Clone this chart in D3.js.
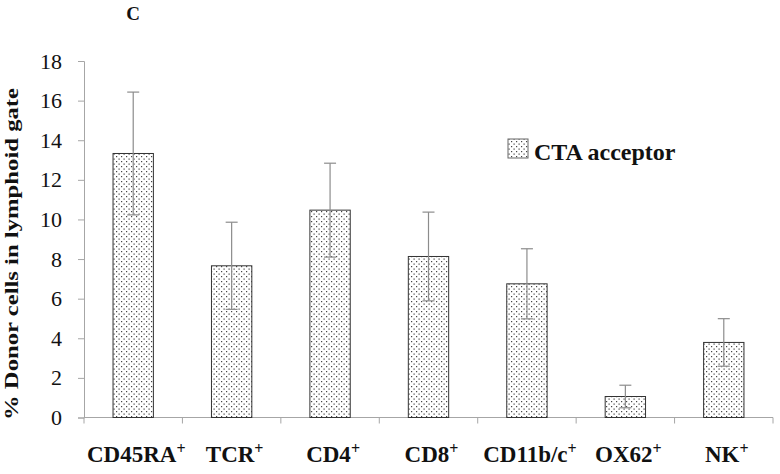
<!DOCTYPE html>
<html>
<head>
<meta charset="utf-8">
<script src="https://cdn.jsdelivr.net/npm/d3@7"></script>
<style>
  body { margin: 0; padding: 0; background: #fff; }
  #fig { display: block; }
  #fig text { font-family: "Liberation Serif" !important; }
</style>
</head>
<body>
<svg id="fig" width="780" height="474"></svg>
<script>
const categories = ["CD45RA", "TCR", "CD4", "CD8", "CD11b/c", "OX62", "NK"];
const values = [13.33, 7.66, 10.47, 8.13, 6.75, 1.06, 3.79];
const errors = [3.1, 2.2, 2.37, 2.24, 1.77, 0.57, 1.2];
const yTicks = [0, 2, 4, 6, 8, 10, 12, 14, 16, 18];
const seriesName = "CTA acceptor";
const panelLabel = "C";
const yTitle = "% Donor cells in lymphoid gate";

(function () {
const svg = d3.select("#fig");
const FF = '"Liberation Serif"';

const mLeft = 84, mRight = 773, mTop = 61, mBottom = 417.5;

const x = d3.scaleBand().domain(categories).range([mLeft, mRight]).padding(0);
const y = d3.scaleLinear().domain([0, 18]).range([mBottom, mTop]);

// pattern
const defs = svg.append("defs");
const pat = defs.append("pattern")
  .attr("id", "dots").attr("patternUnits", "userSpaceOnUse")
  .attr("width", 5).attr("height", 5);
pat.append("rect").attr("width", 5).attr("height", 5).attr("fill", "#fff");
pat.append("rect").attr("x", 1).attr("y", 1).attr("width", 1.2).attr("height", 1.2).attr("fill", "#444");
pat.append("rect").attr("x", 3.5).attr("y", 3.5).attr("width", 1.2).attr("height", 1.2).attr("fill", "#444");

// y axis
const yAxis = d3.axisLeft(y).tickValues(yTicks).tickSize(6).tickPadding(16).tickFormat(d3.format("d"));
const gy = svg.append("g").attr("transform", `translate(${mLeft},0)`).call(yAxis);
gy.attr("font-family", FF).attr("font-size", 22);
gy.select(".domain").attr("stroke", "#a6a6a6");
gy.selectAll(".tick line").attr("stroke", "#a6a6a6");
gy.selectAll(".tick text").style("font-family", FF, "important").attr("font-size", 22).attr("fill", "#111");

// x axis
const gx = svg.append("g").attr("transform", `translate(0,${mBottom})`);
gx.append("line").attr("x1", mLeft).attr("x2", mRight).attr("y1", 0).attr("y2", 0).attr("stroke", "#a6a6a6");
const bounds = categories.map(c => x(c)).concat([x(categories[categories.length - 1]) + x.bandwidth()]);
gx.selectAll("line.tk").data(bounds).join("line").attr("class", "tk")
  .attr("x1", d => d).attr("x2", d => d).attr("y1", 0).attr("y2", 6).attr("stroke", "#a6a6a6");

// x labels
const labels = svg.append("g").selectAll("text").data(categories).join("text")
  .attr("x", d => x(d) + x.bandwidth() / 2 + 3)
  .attr("y", 462)
  .attr("text-anchor", "middle")
  .style("font-family", FF, "important").attr("font-weight", "bold").attr("font-size", 23).attr("fill", "#111");
labels.append("tspan").text(d => d);
labels.append("tspan").attr("font-size", 16).attr("dy", -8).text("+");

// bars
const bw = x.bandwidth() * 0.41;
svg.append("g").selectAll("rect").data(categories).join("rect")
  .attr("x", d => x(d) + x.bandwidth() / 2 - bw / 2)
  .attr("y", (d, i) => y(values[i]))
  .attr("width", bw)
  .attr("height", (d, i) => mBottom - y(values[i]))
  .attr("fill", "url(#dots)")
  .attr("stroke", "#333").attr("stroke-width", 1);

// error bars
const eg = svg.append("g").attr("stroke", "#8c8c8c").attr("stroke-width", 1.2);
categories.forEach((c, i) => {
  const cx = x(c) + x.bandwidth() / 2;
  eg.append("line").attr("x1", cx).attr("x2", cx)
    .attr("y1", y(values[i] - errors[i])).attr("y2", y(values[i] + errors[i]));
  eg.append("line").attr("x1", cx - 6).attr("x2", cx + 6)
    .attr("y1", y(values[i] + errors[i])).attr("y2", y(values[i] + errors[i]));
  eg.append("line").attr("x1", cx - 6).attr("x2", cx + 6)
    .attr("y1", y(values[i] - errors[i])).attr("y2", y(values[i] - errors[i]));
});

// panel label
svg.append("text").attr("x", 133).attr("y", 20).attr("text-anchor", "middle")
  .style("font-family", FF, "important").attr("font-weight", "bold").attr("font-size", 19).attr("fill", "#111")
  .text(panelLabel);

// y title
svg.append("text").attr("transform", "translate(17.5,254) rotate(-90)")
  .attr("text-anchor", "middle")
  .attr("textLength", 332).attr("lengthAdjust", "spacingAndGlyphs")
  .style("font-family", FF, "important").attr("font-weight", "bold").attr("font-size", 19).attr("fill", "#111")
  .text(yTitle);

// legend
const lg = svg.append("g");
lg.append("rect").attr("x", 508).attr("y", 139).attr("width", 20).attr("height", 19)
  .attr("fill", "url(#dots)").attr("stroke", "#666");
lg.append("text").attr("x", 534).attr("y", 160)
  .style("font-family", FF, "important").attr("font-weight", "bold").attr("font-size", 24).attr("fill", "#111")
  .text(seriesName);
})();
</script>
</body>
</html>
